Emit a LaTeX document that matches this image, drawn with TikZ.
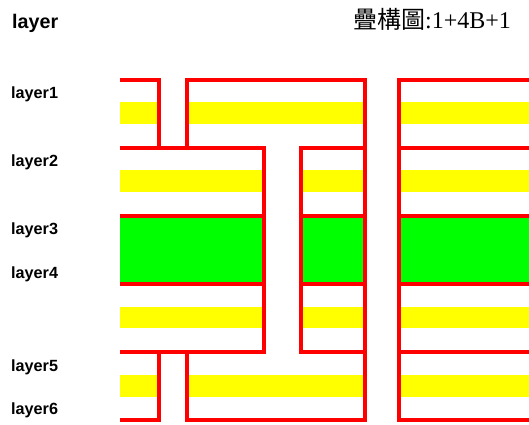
\documentclass[tikz,border=0pt]{standalone}
\usepackage{fontspec}
\setmainfont{Liberation Serif}
\newfontfamily\lblfont{Liberation Sans}
\newfontfamily\cjkfont{Noto Sans CJK TC}
\definecolor{cred}{RGB}{255,0,0}
\definecolor{cyellow}{RGB}{255,255,0}
\definecolor{cgreen}{RGB}{0,255,0}
\tikzset{
  wire/.style={draw=cred,line width=3.8pt,line join=miter,line cap=butt},
  yband/.style={fill=cyellow,draw=none},
  gband/.style={fill=cgreen,draw=none},
  lbl/.style={inner sep=0pt,anchor=base west,font=\lblfont\bfseries\fontsize{16.2}{18}\selectfont},
}
\begin{document}
\begin{tikzpicture}[x=1pt,y=-1pt]
\useasboundingbox (0,0) rectangle (529,424);
% yellow bands, rows 1 and 4
\foreach \t/\b in {102.3/123.7,375/396.7}{
  \fill[yband] (119.5,\t) rectangle (159.3,\b);
  \fill[yband] (186.7,\t) rectangle (365,\b);
  \fill[yband] (399.3,\t) rectangle (529,\b);
}
% yellow bands, rows 2 and 3
\foreach \t/\b in {170.3/192.3,306.7/328.3}{
  \fill[yband] (119.5,\t) rectangle (263.7,\b);
  \fill[yband] (301,\t) rectangle (365,\b);
  \fill[yband] (399.3,\t) rectangle (529,\b);
}
% green core
\fill[gband] (119.5,215.7) rectangle (263.7,284);
\fill[gband] (301,215.7) rectangle (365,284);
\fill[gband] (399.3,215.7) rectangle (529,284);
% red copper outlines
\draw[wire] (119.5,79.7) -- (159.3,79.7) -- (159.3,147.7);
\draw[wire] (186.7,147.7) -- (186.7,79.7) -- (365,79.7) -- (365,420.3) -- (186.7,420.3) -- (186.7,352.3);
\draw[wire] (159.3,352.3) -- (159.3,420.3) -- (119.5,420.3);
\draw[wire] (119.5,147.7) -- (263.7,147.7) -- (263.7,352.3) -- (119.5,352.3);
\draw[wire] (365,147.7) -- (301,147.7) -- (301,352.3) -- (365,352.3);
\draw[wire] (529,79.7) -- (399.3,79.7) -- (399.3,420.3) -- (529,420.3);
\foreach \y in {215.7,284}{
  \draw[wire] (119.5,\y) -- (263.7,\y);
  \draw[wire] (301,\y) -- (365,\y);
}
\foreach \y in {147.7,215.7,284,352.3}{
  \draw[wire] (399.3,\y) -- (529,\y);
}
% labels
\node[lbl,font=\lblfont\bfseries\fontsize{19.7}{22}\selectfont] (head) at (12,28) {layer};
\node[lbl] (la) at (11,98) {layer1};
\node[lbl] (lb) at (11,166.5) {layer2};
\node[lbl] (lc) at (11,234.5) {layer3};
\node[lbl] (ld) at (11,278.5) {layer4};
\node[lbl] (le) at (11,371) {layer5};
\node[lbl] (lf) at (11,414.5) {layer6};
\node[inner sep=0pt,anchor=base west,font=\fontsize{24}{26}\selectfont] (title) at (353,28) {{\cjkfont\fontsize{24}{26}\selectfont 疊構圖}:1+4B+1};
\end{tikzpicture}
\end{document}
